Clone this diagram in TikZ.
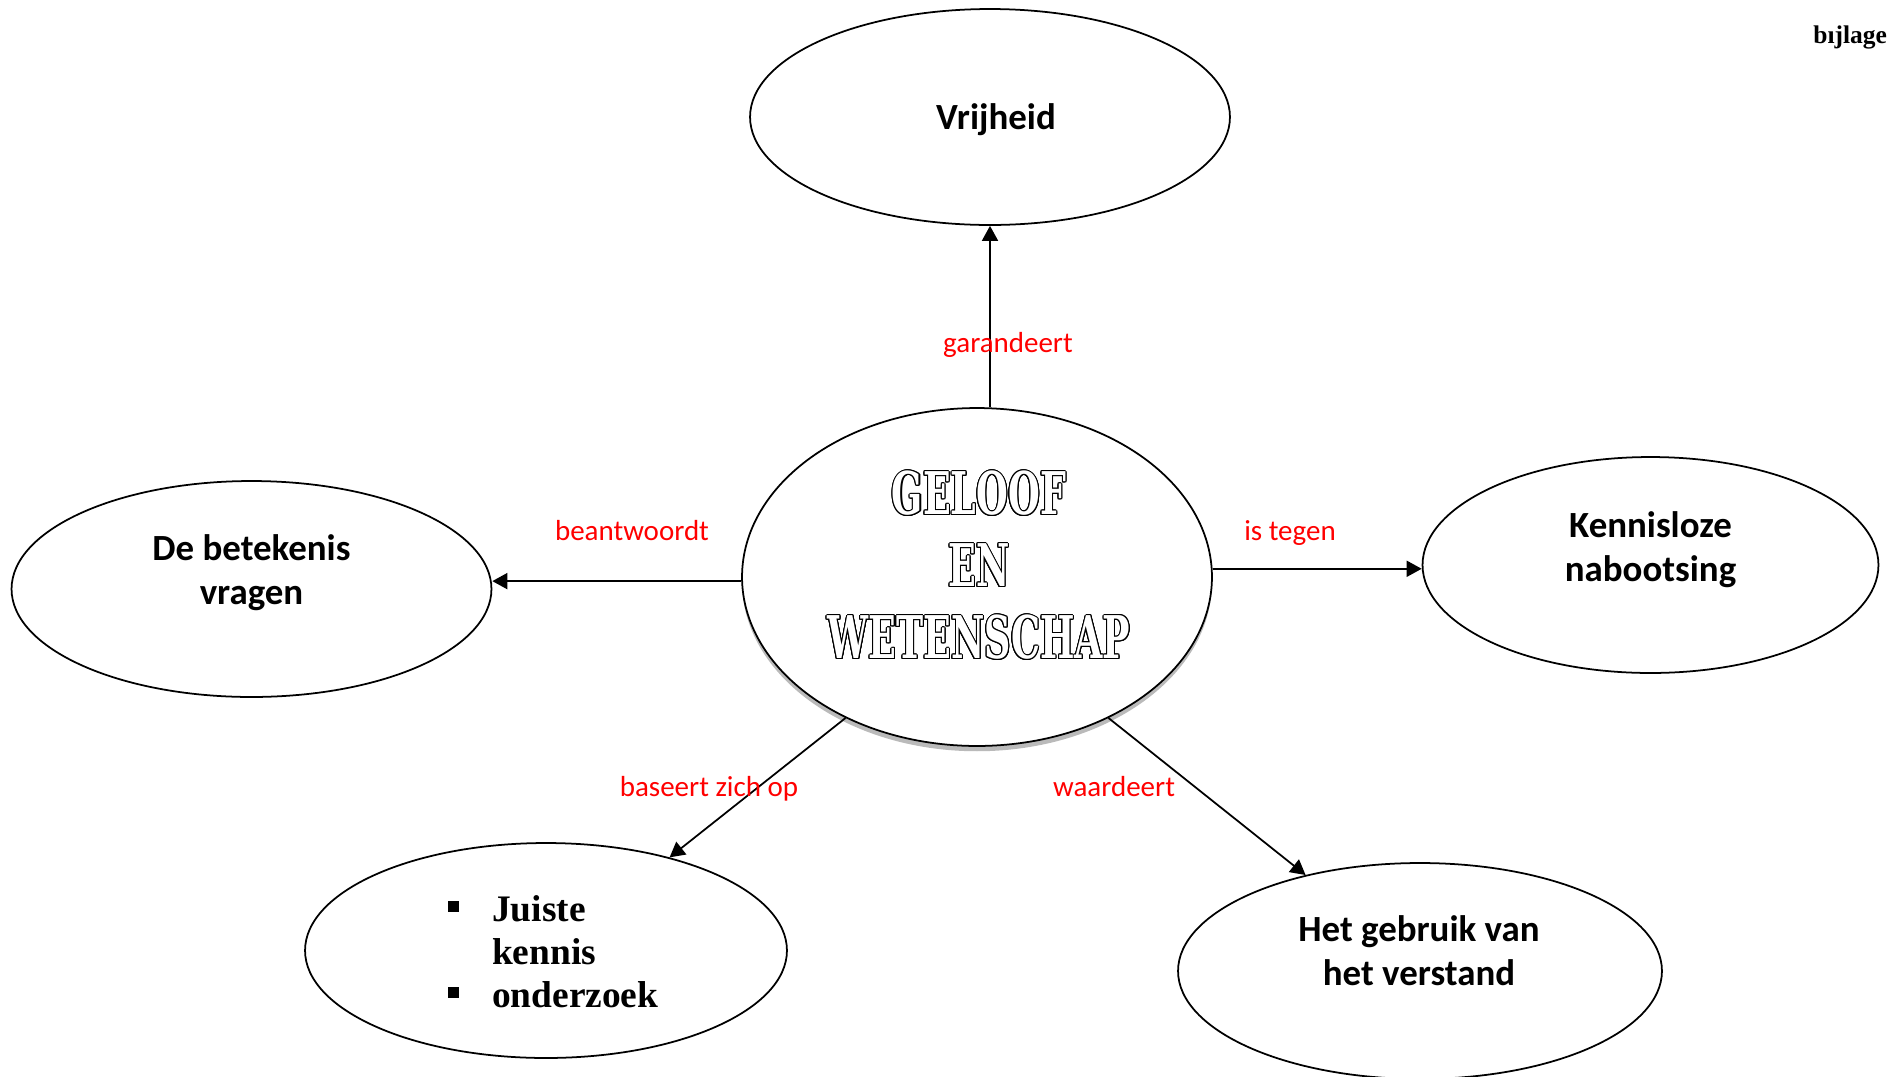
\documentclass[tikz,border=0pt]{standalone}
\usepackage{fontspec}
\usepackage{contour}
\usetikzlibrary{shapes.geometric, arrows.meta, shadows}
\newfontfamily\calibri{Carlito}
\newfontfamily\tnr{Liberation Serif}
\newfontfamily\slab[FakeStretch=0.62]{DejaVu Serif}
\definecolor{lblred}{RGB}{255, 0, 0}
\contourlength{0.6pt}
\newcommand{\sqbullet}{\rule[5.4pt]{6.2pt}{6.2pt}}
\tikzset{
	bubble/.style={draw, ellipse, line width=1pt, fill=white, inner sep=0pt,
		minimum width=9.6cm, minimum height=4.32cm},
	bubbletext/.style={align=center, inner sep=0pt,
		font=\calibri\bfseries\fontsize{21}{25.2}\selectfont},
	lbl/.style={text=lblred, inner sep=0pt, font=\calibri\fontsize{16.5}{19}\selectfont},
	arr/.style={line width=1pt, -{Triangle[length=3mm, width=3.2mm]}},
}

\begin{document}
\begin{tikzpicture}[x=0.02cm, y=-0.02cm]
		\useasboundingbox (0,0) rectangle (1887,1076);

		% --- Ellipses ---
		\node[bubble] (vrij) at (990,117) {};
		\node[bubble, minimum width=9.4cm, minimum height=6.76cm,
			drop shadow={shadow xshift=0pt, shadow yshift=-3pt, fill=black!45, opacity=0.6}]
			(geloof) at (977,577) {};
		\node[bubble] (zin) at (251.5,589) {};
		\node[bubble, minimum width=9.12cm] (nabo) at (1650.5,565) {};
		\node[bubble, minimum width=9.64cm, minimum height=4.3cm] (kennis) at (546,950.5) {};
		\node[bubble, minimum width=9.68cm] (verstand) at (1420,971) {};

		% --- Texts in the ellipses ---
		\node[bubbletext] (vrijtxt) at (996,119.5) {Vrijheid};
		\node[align=center, text=white, inner sep=0pt,
			font=\slab\bfseries\fontsize{33.5}{41}\selectfont] (geloftxt) at (979,566)
			{\contour{black}{GELOOF}\\\contour{black}{EN}\\\contour{black}{WETENSCHAP}};
		\node[bubbletext] (zintxt) at (251.5,572.5) {De betekenis\\vragen};
		\node[bubbletext] (nabotxt) at (1650.5,549.5) {Kennisloze\\nabootsing};
		\node[anchor=west, inner sep=0pt, font=\tnr\bfseries\fontsize{21.3}{24.4}\selectfont]
			(kennistxt) at (448,956)
			{\begin{tabular}{@{}l@{\hspace{18.7pt}}l@{}}
				\sqbullet & Juiste\\
				& kennis\\
				\sqbullet & onderzoek
			\end{tabular}};
		\node[bubbletext] (verstandtxt) at (1419,951) {Het gebruik van\\het verstand};

		% --- Connectors ---
		\draw[arr] (geloof.north -| vrij.south) -- (vrij.south);
		\draw[arr] (geloof.181) -- (geloof.181 -| zin.east);
		\draw[arr] (geloof.2) -- (geloof.2 -| nabo.west);
		\draw[arr] (geloof.227) -- (kennis.37);
		\draw[arr] (geloof.313) -- (verstand.140);

		% --- Connector labels ---
		\node[lbl] (garlbl) at (1008,344.5) {garandeert};
		\node[lbl] (beantlbl) at (632,531) {beantwoordt};
		\node[lbl] (tegenlbl) at (1290,533.5) {is tegen};
		\node[lbl] (baseertlbl) at (709,789) {baseert zich op};
		\node[lbl] (waardlbl) at (1114,787) {waardeert};

		% --- Corner text ---
		\node[anchor=base west, inner sep=0pt, font=\tnr\bfseries\fontsize{14.5}{17}\selectfont]
			(bijlage) at (1813,43.6) {bıjlage};
\end{tikzpicture}
\end{document}
